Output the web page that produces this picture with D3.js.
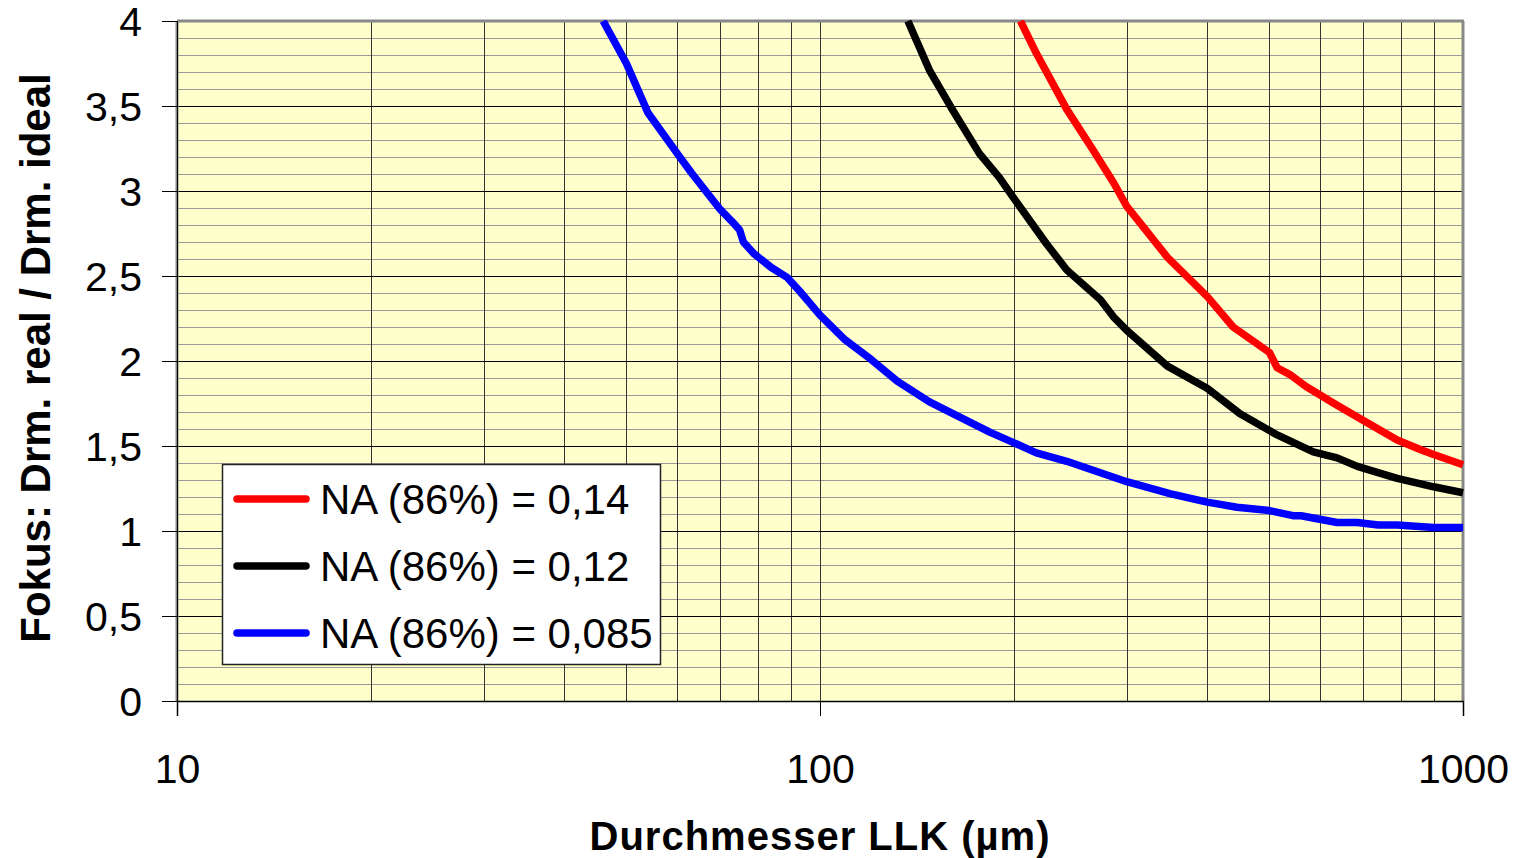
<!DOCTYPE html>
<html>
<head>
<meta charset="utf-8">
<script src="https://cdn.jsdelivr.net/npm/d3@7"></script>
<style>
  html, body { margin: 0; padding: 0; background: #fff; }
  svg { display: block; font-family: Arial, "Liberation Sans", sans-serif; }
</style>
</head>
<body>
<svg id="chart" width="1518" height="858"></svg>
<script>
// series (x = Durchmesser in µm, y = ratio)
const redX = [205, 217, 242, 266, 286, 300, 315, 347, 400, 439, 500, 514, 538, 570, 637, 700, 790, 858, 900, 1000];
const redY = [4.0, 3.81, 3.48, 3.24, 3.05, 2.91, 2.81, 2.61, 2.38, 2.2, 2.05, 1.96, 1.92, 1.85, 1.74, 1.65, 1.535, 1.48, 1.45, 1.39];

const blackX = [137, 148, 160, 177, 190, 200, 225, 242, 273, 286, 300, 347, 400, 450, 514, 585, 637, 685, 790, 900, 1000];
const blackY = [4.0, 3.71, 3.49, 3.22, 3.08, 2.96, 2.69, 2.535, 2.36, 2.26, 2.18, 1.97, 1.84, 1.69, 1.565, 1.465, 1.43, 1.38, 1.31, 1.26, 1.225];

const blueX = [46, 50, 54, 60, 63, 70, 73, 75, 76, 79, 84, 89, 93, 100, 109, 120, 132, 148, 165, 184, 200, 217, 242, 300, 350, 400, 445, 500, 544, 560, 637, 685, 738, 790, 900, 1000];
const blueY = [4.0, 3.75, 3.46, 3.22, 3.11, 2.89, 2.82, 2.77, 2.70, 2.63, 2.55, 2.49, 2.41, 2.27, 2.13, 2.01, 1.88, 1.76, 1.67, 1.58, 1.52, 1.46, 1.41, 1.29, 1.22, 1.17, 1.14, 1.12, 1.09, 1.09, 1.05, 1.05, 1.035, 1.035, 1.02, 1.02];

const seriesNames = ["NA (86%) = 0,14", "NA (86%) = 0,12", "NA (86%) = 0,085"];
const seriesColors = ["#ff0000", "#000000", "#0000ff"];

const yTicks = [0, 0.5, 1, 1.5, 2, 2.5, 3, 3.5, 4];
const xTicks = [10, 100, 1000];

const xTitle = "Durchmesser LLK (µm)";
const yTitle = "Fokus: Drm. real / Drm. ideal";

const svg = d3.select("#chart");
const plotL = 177, plotR = 1463, plotT = 21, plotB = 701;

const x = d3.scaleLog().domain([10, 1000]).range([plotL, plotR]);
const y = d3.scaleLinear().domain([0, 4]).range([plotB, plotT]);
const fmt = d => String(d).replace(".", ",");

// plot background
svg.append("rect")
    .attr("x", plotL).attr("y", plotT)
    .attr("width", plotR - plotL).attr("height", plotB - plotT)
    .attr("fill", "#ffffcc");

// minor horizontal grid (every 0.1)
const minorY = d3.range(1, 40).map(i => i / 10).filter(v => Math.round(v * 10) % 5 !== 0);
svg.append("g").selectAll("line").data(minorY).join("line")
    .attr("x1", plotL).attr("x2", plotR)
    .attr("y1", d => Math.round(y(d)) + 0.5).attr("y2", d => Math.round(y(d)) + 0.5)
    .attr("stroke", "#999").attr("stroke-width", 1);

// vertical grid (2..9 per decade)
const gridX = [];
[10, 100].forEach(b => d3.range(1, 10).forEach(k => { if (b * k > 10) gridX.push(b * k); }));
svg.append("g").selectAll("line").data(gridX).join("line")
    .attr("x1", d => Math.round(x(d)) + 0.5).attr("x2", d => Math.round(x(d)) + 0.5)
    .attr("y1", plotT).attr("y2", plotB)
    .attr("stroke", "#333").attr("stroke-width", 1);

// major horizontal grid
svg.append("g").selectAll("line").data(yTicks.filter(d => d > 0 && d < 4)).join("line")
    .attr("x1", plotL).attr("x2", plotR)
    .attr("y1", d => Math.round(y(d)) + 0.5).attr("y2", d => Math.round(y(d)) + 0.5)
    .attr("stroke", "#000").attr("stroke-width", 1);

// frame: top, right and left in gray
svg.append("line").attr("x1", plotL).attr("x2", plotR + 1).attr("y1", plotT).attr("y2", plotT)
    .attr("stroke", "#888").attr("stroke-width", 3);
svg.append("line").attr("x1", plotR).attr("x2", plotR).attr("y1", plotT).attr("y2", plotB)
    .attr("stroke", "#888").attr("stroke-width", 3);
svg.append("line").attr("x1", plotL).attr("x2", plotL).attr("y1", plotT).attr("y2", plotB)
    .attr("stroke", "#888").attr("stroke-width", 3);

// clip for the curves
svg.append("clipPath").attr("id", "plotClip")
  .append("rect").attr("x", plotL).attr("y", plotT - 1)
    .attr("width", plotR - plotL + 4).attr("height", plotB - plotT + 1);

const line = d3.line().x(d => x(d[0])).y(d => y(d[1]));
const series = [
  d3.zip(redX, redY),
  d3.zip(blackX, blackY),
  d3.zip(blueX, blueY)
];
svg.append("g").attr("clip-path", "url(#plotClip)")
  .selectAll("path").data(series).join("path")
    .attr("d", line)
    .attr("fill", "none")
    .attr("stroke", (d, i) => seriesColors[i])
    .attr("stroke-width", 7.5)
    .attr("stroke-linejoin", "round");

// y axis
const yAxis = svg.append("g").attr("transform", `translate(${plotL},0)`)
    .call(d3.axisLeft(y).tickValues(yTicks).tickFormat(fmt).tickSize(15).tickPadding(20));
yAxis.select(".domain").attr("stroke", "#000").attr("stroke-width", 1);
yAxis.selectAll(".tick line").attr("stroke", "#000");
yAxis.selectAll("text").attr("font-size", 41).attr("fill", "#000")
    .attr("dy", "0.36em")
    .attr("font-family", "Arial, 'Liberation Sans', sans-serif");

// x axis
const xAxis = svg.append("g").attr("transform", `translate(0,${plotB})`)
    .call(d3.axisBottom(x).tickValues(xTicks).tickFormat(d3.format("d")).tickSize(15).tickPadding(38));
xAxis.select(".domain").attr("stroke", "#000").attr("stroke-width", 1.5);
xAxis.selectAll(".tick line").attr("stroke", "#000");
xAxis.selectAll("text").attr("font-size", 41).attr("fill", "#000")
    .attr("font-family", "Arial, 'Liberation Sans', sans-serif");

// axis titles
svg.append("text")
    .attr("x", (plotL + plotR) / 2).attr("y", 850)
    .attr("text-anchor", "middle")
    .attr("font-size", 40).attr("font-weight", "bold")
    .attr("letter-spacing", 1)
    .text(xTitle);

svg.append("text")
    .attr("transform", "translate(50,358) rotate(-90)")
    .attr("text-anchor", "middle")
    .attr("font-size", 42).attr("font-weight", "bold")
    .text(yTitle);

// legend
const lg = svg.append("g");
lg.append("rect")
    .attr("x", 222.5).attr("y", 464.5).attr("width", 438).attr("height", 200)
    .attr("fill", "#fff").attr("stroke", "#222").attr("stroke-width", 1.5);
const rows = lg.selectAll("g.row").data(seriesNames).join("g")
    .attr("class", "row")
    .attr("transform", (d, i) => `translate(0,${499 + i * 67})`);
rows.append("line")
    .attr("x1", 237).attr("x2", 306)
    .attr("stroke", (d, i) => seriesColors[i])
    .attr("stroke-width", 7.5).attr("stroke-linecap", "round");
rows.append("text")
    .attr("x", 320).attr("y", 15)
    .attr("font-size", 42).attr("fill", "#000")
    .text(d => d);
</script>
</body>
</html>
